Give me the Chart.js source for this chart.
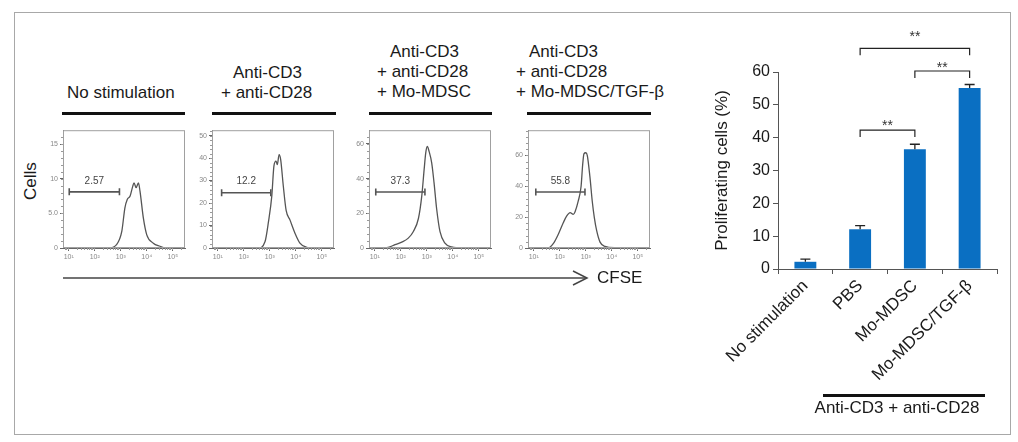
<!DOCTYPE html>
<html>
<head>
<meta charset="utf-8">
<script src="https://cdn.jsdelivr.net/npm/chart.js@4.4.1/dist/chart.umd.min.js"></script>
<style>
  body { margin: 0; background: #fff; font-family: "Liberation Sans", Arial, sans-serif; }
  #fig { position: relative; width: 1018px; height: 442px; overflow: hidden; }
  .frame { position: absolute; left: 14px; top: 12px; width: 997px; height: 423px; box-sizing: border-box; border: 1px solid #a8a8a8; }
  .t { position: absolute; font-size: 17px; line-height: 20px; color: #1a1a1a; white-space: nowrap; }
  .c { width: 200px; text-align: center; }
  .rule { position: absolute; height: 3px; background: #111; }
  canvas { position: absolute; }
</style>
</head>
<body>
<div id="fig">
  <div class="frame"></div>

  <!-- panel titles -->
  <div class="t" style="left:67px;top:83px">No stimulation</div>
  <div class="t" style="left:233px;top:63px">Anti-CD3</div>
  <div class="t" style="left:221px;top:83px">+ anti-CD28</div>
  <div class="t" style="left:390px;top:42px">Anti-CD3</div>
  <div class="t" style="left:377px;top:62px">+ anti-CD28</div>
  <div class="t" style="left:377px;top:82px">+ Mo-MDSC</div>
  <div class="t" style="left:529px;top:42px">Anti-CD3</div>
  <div class="t" style="left:516px;top:62px">+ anti-CD28</div>
  <div class="t" style="left:516px;top:82px">+ Mo-MDSC/TGF-β</div>

  <div class="rule" style="left:62px;top:112px;width:123px"></div>
  <div class="rule" style="left:212px;top:112px;width:124px"></div>
  <div class="rule" style="left:369px;top:112px;width:123px"></div>
  <div class="rule" style="left:527px;top:112px;width:124px"></div>

  <div class="t" style="left:14px;top:173px;transform:rotate(-90deg);transform-origin:17px 10px;width:34px;text-align:center">Cells</div>

  <canvas id="h0" width="148" height="144" style="left:43px;top:124px"></canvas>
  <canvas id="h1" width="148" height="144" style="left:192px;top:124px"></canvas>
  <canvas id="h2" width="148" height="144" style="left:349px;top:124px"></canvas>
  <canvas id="h3" width="148" height="144" style="left:508px;top:124px"></canvas>

  <svg style="position:absolute;left:0;top:0" width="700" height="300">
    <line x1="63" y1="278" x2="586" y2="278" stroke="#444" stroke-width="1.5"/>
    <polyline points="573,271 587,278 573,285" fill="none" stroke="#444" stroke-width="1.5"/>
  </svg>
  <div class="t" style="left:597px;top:268px">CFSE</div>

  <canvas id="bars" width="305" height="375" style="left:700px;top:20px"></canvas>
  <div class="rule" style="left:823px;top:394px;width:162px"></div>
  <div class="t c" style="left:797px;top:398px">Anti-CD3 + anti-CD28</div>
</div>

<script>
Chart.defaults.font.family = '"Liberation Sans", Arial, sans-serif';

// ---- CFSE histograms: x = log10(CFSE), y = cells ----
const cfseDecades = [1, 2, 3, 4, 5];
const sup = ['\u2070', '\u00b9', '\u00b2', '\u00b3', '\u2074', '\u2075'];

const noStimCfse  = [0.78, 2.52, 2.84, 3.04, 3.16, 3.25, 3.36, 3.46, 3.51, 3.59, 3.68, 3.74, 3.87, 4.0, 4.25, 4.51, 4.70, 5.47];
const noStimCells = [0, 0, 0.5, 2.4, 5.8, 7.0, 7.5, 8.9, 9.4, 8.7, 9.4, 8.2, 4.3, 1.9, 0.7, 0.25, 0, 0];

const cd3Cfse  = [0.78, 2.56, 2.82, 2.95, 3.08, 3.16, 3.24, 3.29, 3.36, 3.42, 3.52, 3.63, 3.78, 3.97, 4.16, 4.42, 4.6, 5.47];
const cd3Cells = [0, 0, 2.9, 11.6, 23.3, 36.4, 38.6, 37.1, 41.5, 39.3, 27.7, 16.7, 12.4, 6.6, 2.2, 0.3, 0, 0];

const mdscCfse  = [0.78, 1.4, 1.52, 1.78, 2.04, 2.29, 2.48, 2.68, 2.81, 2.90, 2.96, 3.02, 3.09, 3.19, 3.28, 3.38, 3.51, 3.70, 3.96, 4.35, 5.47];
const mdscCells = [0, 0, 0.3, 1.9, 3.4, 5.7, 9.4, 17, 30.2, 45.3, 54.7, 58.5, 55.7, 49.1, 37.7, 22.6, 9.4, 2.8, 0.6, 0, 0];

const tgfCfse  = [0.78, 1.56, 1.75, 1.95, 2.14, 2.27, 2.40, 2.52, 2.59, 2.71, 2.82, 2.88, 2.93, 3.0, 3.06, 3.16, 3.25, 3.33, 3.42, 3.55, 3.74, 4.13, 5.47];
const tgfCells = [0, 0, 2.8, 9.1, 16.5, 20.8, 22.9, 21.8, 23.5, 30.3, 39.8, 53.6, 61.0, 61.7, 59.9, 46.2, 30.3, 19.7, 11.2, 3.8, 1.1, 0.2, 0];

const histYMax   = [17, 52.4, 67.9, 76.3];
const histYTicks = [[0, 5, 10, 15], [0, 10, 20, 30, 40, 50], [0, 20, 40, 60], [0, 20, 40, 60]];
const histYLabels = [['0', '5.0', '10', '15'], ['0', '10', '20', '30', '40', '50'], ['0', '20', '40', '60'], ['0', '20', '40', '60']];

// proliferation gates
const gateLabels = ['2.57', '12.2', '37.3', '55.8'];
const gateFrom   = [1.02, 1.15, 1.04, 1.08];
const gateTo     = [2.95, 3.04, 2.93, 2.97];
const gateCells  = [8.1, 24.6, 32.3, 36.3];

// ---- bar chart ----
const groups     = ['No stimulation', 'PBS', 'Mo-MDSC', 'Mo-MDSC/TGF-\u03b2'];
const prolif     = [2.2, 12.1, 36.5, 55.1];
const prolifErr  = [0.8, 1.1, 1.5, 1.1];
const sigFrom    = [1, 2, 1];
const sigTo      = [2, 3, 3];
const sigLevel   = [42.3, 60.3, 67.2];
const sigStarAt  = [44.9, 62.4, 72.0];


// box, minor ticks and gate label for the small histograms
const panelBox = {
  id: 'panelBox',
  afterDraw(chart, args, opts) {
    const {ctx, chartArea: a, scales} = chart;
    ctx.save();
    ctx.strokeStyle = '#a0a0a0';
    ctx.lineWidth = 1;
    ctx.strokeRect(a.left + 0.5, a.top + 0.5, a.right - a.left - 1, a.bottom - a.top - 1);

    ctx.strokeStyle = '#999';
    ctx.beginPath();
    for (let d = 0; d <= 5; d++) {
      for (let k = 2; k <= 9; k++) {
        const v = d + Math.log10(k);
        if (v < scales.x.min || v > scales.x.max) continue;
        const px = Math.round(scales.x.getPixelForValue(v)) + 0.5;
        ctx.moveTo(px, a.bottom);
        ctx.lineTo(px, a.bottom + 2);
      }
    }
    const yt = opts.ticks;
    const step = (yt[1] - yt[0]) / 5;
    for (let v = step; v < scales.y.max; v += step) {
      const py = Math.round(scales.y.getPixelForValue(v)) + 0.5;
      ctx.moveTo(a.left - 2, py);
      ctx.lineTo(a.left, py);
    }
    ctx.stroke();

    ctx.fillStyle = '#444';
    ctx.font = '10px "Liberation Sans", Arial, sans-serif';
    ctx.textAlign = 'center';
    ctx.textBaseline = 'middle';
    ctx.fillText(opts.label, scales.x.getPixelForValue(opts.x), scales.y.getPixelForValue(opts.y) - 11);
    ctx.restore();
  }
};

function histogram(id, cfse, cells, p) {
  new Chart(document.getElementById(id), {
    type: 'line',
    data: {
      datasets: [
        {
          data: cfse.map((x, i) => ({x: x, y: cells[i]})),
          borderColor: '#555',
          borderWidth: 1.3,
          pointRadius: 0,
          cubicInterpolationMode: 'monotone'
        },
        {
          data: [{x: gateFrom[p], y: gateCells[p]}, {x: gateTo[p], y: gateCells[p]}],
          borderColor: '#555',
          borderWidth: 1.6,
          pointStyle: 'line',
          pointRotation: 90,
          pointRadius: 3.5,
          pointBorderWidth: 1.6,
          pointBorderColor: '#555'
        }
      ]
    },
    options: {
      responsive: false,
      animation: false,
      events: [],
      layout: {padding: {top: 4, right: 6}},
      plugins: {
        legend: {display: false},
        tooltip: {enabled: false},
        panelBox: {label: gateLabels[p], x: (gateFrom[p] + gateTo[p]) / 2, y: gateCells[p], ticks: histYTicks[p]}
      },
      scales: {
        x: {
          type: 'linear',
          min: 0.78,
          max: 5.47,
          afterFit: s => { s.height = 20; },
          afterBuildTicks: s => { s.ticks = cfseDecades.map(v => ({value: v})); },
          ticks: {font: {size: 7}, color: '#888', padding: 2, maxRotation: 0, callback: v => '10' + sup[v]},
          grid: {drawOnChartArea: false, tickLength: 3, color: '#666'},
          border: {color: '#666'}
        },
        y: {
          min: 0,
          max: histYMax[p],
          afterFit: s => { s.width = 20; },
          afterBuildTicks: s => { s.ticks = histYTicks[p].map(v => ({value: v})); },
          ticks: {font: {size: 7}, color: '#888', padding: 2, callback: (v, i) => histYLabels[p][i]},
          grid: {drawOnChartArea: false, tickLength: 3, color: '#666'},
          border: {color: '#666'}
        }
      }
    },
    plugins: [panelBox]
  });
}

histogram('h0', noStimCfse, noStimCells, 0);
histogram('h1', cd3Cfse, cd3Cells, 1);
histogram('h2', mdscCfse, mdscCells, 2);
histogram('h3', tgfCfse, tgfCells, 3);


// upper error bars + significance brackets
const barExtras = {
  id: 'barExtras',
  afterDatasetsDraw(chart) {
    const {ctx, scales: {x, y}} = chart;
    const bars = chart.getDatasetMeta(0).data;
    ctx.save();
    ctx.strokeStyle = '#222';
    ctx.lineWidth = 1.3;
    ctx.beginPath();
    bars.forEach((b, i) => {
      const yTop = y.getPixelForValue(prolif[i] + prolifErr[i]);
      ctx.moveTo(b.x, y.getPixelForValue(prolif[i]));
      ctx.lineTo(b.x, yTop);
      ctx.moveTo(b.x - 5, yTop);
      ctx.lineTo(b.x + 5, yTop);
    });
    ctx.stroke();

    ctx.lineWidth = 1.2;
    ctx.fillStyle = '#333';
    ctx.font = '14px "Liberation Sans", Arial, sans-serif';
    ctx.textAlign = 'center';
    ctx.textBaseline = 'alphabetic';
    sigFrom.forEach((f, i) => {
      const x1 = x.getPixelForValue(f), x2 = x.getPixelForValue(sigTo[i]);
      const yb = y.getPixelForValue(sigLevel[i]);
      const yl = y.getPixelForValue(sigLevel[i] - 2.1);
      ctx.beginPath();
      ctx.moveTo(x1, yl);
      ctx.lineTo(x1, yb);
      ctx.lineTo(x2, yb);
      ctx.lineTo(x2, yl);
      ctx.stroke();
      ctx.fillText('**', (x1 + x2) / 2, y.getPixelForValue(sigStarAt[i]) + 8);
    });
    ctx.restore();
  }
};

new Chart(document.getElementById('bars'), {
  type: 'bar',
  data: {
    labels: groups,
    datasets: [{data: prolif, backgroundColor: '#0a6fc2', barPercentage: 0.4, categoryPercentage: 1}]
  },
  options: {
    responsive: false,
    animation: false,
    events: [],
    layout: {padding: {top: 52, right: 8, left: 8}},
    plugins: {legend: {display: false}, tooltip: {enabled: false}},
    scales: {
      x: {
        afterFit: s => { s.height = 126; },
        ticks: {font: {size: 17}, color: '#1a1a1a', minRotation: 45, maxRotation: 45, padding: 2},
        grid: {offset: true, drawOnChartArea: false, tickLength: 5, color: '#555'},
        border: {color: '#555'}
      },
      y: {
        min: 0,
        max: 60,
        afterFit: s => { s.width = 70; },
        ticks: {stepSize: 10, font: {size: 16}, color: '#1a1a1a', padding: 3},
        grid: {drawOnChartArea: false, tickLength: 5, color: '#555'},
        border: {color: '#555'},
        title: {display: true, text: 'Proliferating cells (%)', font: {size: 17}, color: '#1a1a1a'}
      }
    }
  },
  plugins: [barExtras]
});
</script>
</body>
</html>
